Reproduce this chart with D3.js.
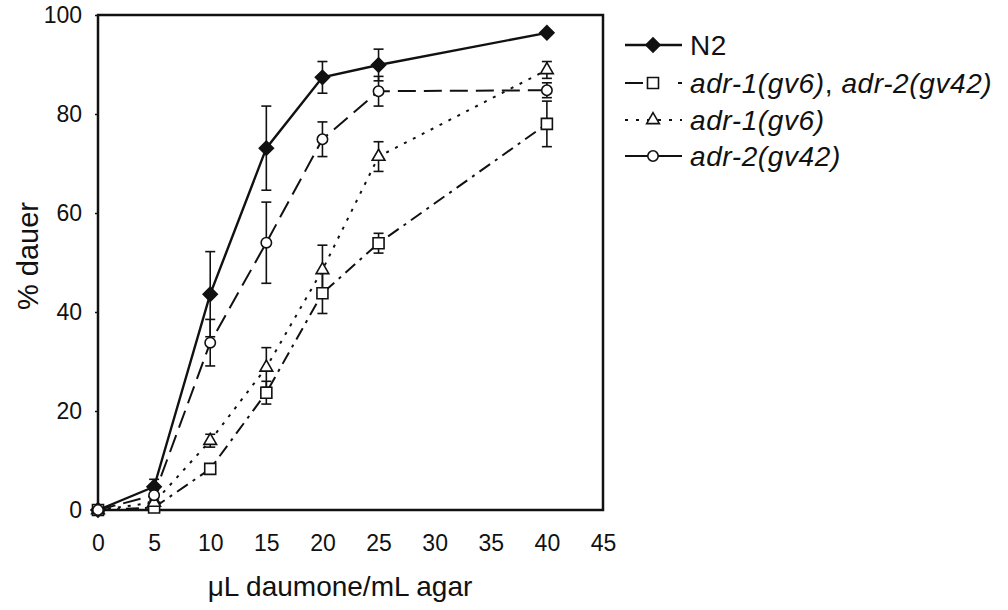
<!DOCTYPE html>
<html>
  <head>
    <meta charset="utf-8">
    <title>dauer formation vs daumone</title>
    <script src="https://d3js.org/d3.v7.min.js"></script>
  </head>
  <style>
    body { margin: 0; background: #fff; }
    svg { font-family: "Liberation Sans", Arial, sans-serif; }
    .tick text { font-size: 23px; fill: #111; }
    .tick line { stroke: #111; stroke-width: 1.5px; }
    .err { stroke: #111; stroke-width: 1.6px; fill: none; }
  </style>
  <body>

    <script>
      const width = 1008;
      const height = 610;

      // doses on x axis, means and errors
      const doses = [0, 5, 10, 15, 20, 25, 40];
      const n2Mean = [0, 4.7, 43.6, 73.1, 87.4, 89.9, 96.4];
      const n2Err = [0, 1.5, 8.6, 8.5, 3.2, 3.2, 0];
      const doubleMean = [0, 0.5, 8.3, 23.7, 43.8, 53.9, 78.0];
      const doubleErr = [0, 0.5, 1.0, 2.3, 4.1, 2.0, 4.6];
      const adr1Mean = [0, 1.5, 14.0, 28.8, 48.5, 71.4, 88.9];
      const adr1Err = [0, 0.5, 1.3, 4.0, 5.0, 3.0, 1.7];
      const adr2Mean = [0, 3.0, 33.8, 54.0, 74.9, 84.6, 84.8];
      const adr2Err = [0, 1.0, 4.7, 8.2, 3.5, 3.0, 1.5];

      const xTicks = [0, 5, 10, 15, 20, 25, 30, 35, 40, 45];
      const yTicks = [0, 20, 40, 60, 80, 100];

      const series = [
        {key: "n2", mean: n2Mean, err: n2Err, dash: null, legendDash: null, shape: "diamond", fill: "#111", width: 2.4},
        {key: "double", mean: doubleMean, err: doubleErr, dash: "13,6,3,6", legendDash: "18,35,4,10", shape: "square", fill: "#fff", width: 2},
        {key: "adr1", mean: adr1Mean, err: adr1Err, dash: "3,7", legendDash: "3,8", shape: "triangle", fill: "#fff", width: 2},
        {key: "adr2", mean: adr2Mean, err: adr2Err, dash: "18,8", legendDash: null, shape: "circle", fill: "#fff", width: 2}
      ];

      const xScale = d3.scaleLinear()
        .domain([0, 45])
        .range([98, 603]);

      const yScale = d3.scaleLinear()
        .domain([0, 100])
        .range([510, 15]);

      function symbolPath(shape) {
        if (shape === "diamond") return d3.symbol().type(d3.symbolSquare).size(100)();
        if (shape === "square") return d3.symbol().type(d3.symbolSquare).size(121)();
        if (shape === "triangle") return d3.symbol().type(d3.symbolTriangle).size(70)();
        return d3.symbol().type(d3.symbolCircle).size(85)();
      }

      function symbolRotate(shape) {
        return shape === "diamond" ? " rotate(45)" : "";
      }

      const svg = d3.select("body")
        .append("svg")
          .attr("width", width)
          .attr("height", height);

      // axes
      svg.append("g")
          .attr("transform", "translate(0," + yScale(0) + ")")
          .call(d3.axisBottom(xScale).tickValues(xTicks).tickSize(0).tickPadding(25))
          .call(function(g) { g.select(".domain").remove(); });

      svg.append("g")
          .attr("transform", "translate(" + xScale(0) + ",0)")
          .call(d3.axisLeft(yScale).tickValues(yTicks).tickSize(3).tickSizeOuter(0).tickPadding(13))
          .call(function(g) { g.select(".domain").remove(); });

      svg.append("rect")
          .attr("x", xScale(0))
          .attr("y", yScale(100))
          .attr("width", xScale(45) - xScale(0))
          .attr("height", yScale(0) - yScale(100))
          .attr("fill", "none")
          .attr("stroke", "#111")
          .attr("stroke-width", 2.5);

      svg.append("text")
          .attr("x", 340)
          .attr("y", 596)
          .attr("text-anchor", "middle")
          .attr("font-size", 28)
          .attr("fill", "#111")
          .text("\u03bcL daumone/mL agar");

      svg.append("text")
          .attr("transform", "translate(38,256) rotate(-90)")
          .attr("text-anchor", "middle")
          .attr("font-size", 29)
          .attr("fill", "#111")
          .text("% dauer");

      const line = d3.line()
        .x(function(d) { return xScale(d.x); })
        .y(function(d) { return yScale(d.y); });

      function points(s) {
        return doses.map(function(x, i) { return {x: x, y: s.mean[i], e: s.err[i]}; });
      }

      // lines
      svg.append("g").selectAll("path")
        .data(series)
        .enter()
        .append("path")
          .attr("d", function(s) { return line(points(s)); })
          .attr("fill", "none")
          .attr("stroke", "#111")
          .attr("stroke-width", function(s) { return s.width; })
          .attr("stroke-dasharray", function(s) { return s.dash; });

      // error bars
      const errGroups = svg.append("g").selectAll("g")
        .data(series)
        .enter()
        .append("g")
        .selectAll("g")
        .data(function(s) { return points(s).filter(function(p) { return p.e > 0.8; }); })
        .enter()
        .append("g")
          .attr("class", "err");

      errGroups.append("line")
          .attr("x1", function(p) { return xScale(p.x); })
          .attr("x2", function(p) { return xScale(p.x); })
          .attr("y1", function(p) { return yScale(p.y + p.e); })
          .attr("y2", function(p) { return yScale(p.y - p.e); });

      errGroups.append("line")
          .attr("x1", function(p) { return xScale(p.x) - 5; })
          .attr("x2", function(p) { return xScale(p.x) + 5; })
          .attr("y1", function(p) { return yScale(p.y + p.e); })
          .attr("y2", function(p) { return yScale(p.y + p.e); });

      errGroups.append("line")
          .attr("x1", function(p) { return xScale(p.x) - 5; })
          .attr("x2", function(p) { return xScale(p.x) + 5; })
          .attr("y1", function(p) { return yScale(p.y - p.e); })
          .attr("y2", function(p) { return yScale(p.y - p.e); });

      // markers
      svg.append("g").selectAll("g")
        .data(series)
        .enter()
        .append("g")
        .each(function(s) {
          d3.select(this).selectAll("path")
            .data(points(s))
            .enter()
            .append("path")
              .attr("d", symbolPath(s.shape))
              .attr("transform", function(p) {
                return "translate(" + xScale(p.x) + "," + yScale(p.y) + ")" + symbolRotate(s.shape);
              })
              .attr("fill", s.fill)
              .attr("stroke", "#111")
              .attr("stroke-width", 1.6);
        });

      // legend
      const legendRows = [
        {s: series[0], parts: [["N2", "normal"]]},
        {s: series[1], parts: [["adr-1(gv6)", "italic"], [", ", "normal"], ["adr-2(gv42)", "italic"]]},
        {s: series[2], parts: [["adr-1(gv6)", "italic"]]},
        {s: series[3], parts: [["adr-2(gv42)", "italic"]]}
      ];
      const legendY = [45, 83, 120, 156];

      const legend = svg.append("g").selectAll("g")
        .data(legendRows)
        .enter()
        .append("g")
          .attr("transform", function(d, i) { return "translate(625," + legendY[i] + ")"; });

      legend.append("line")
          .attr("x1", 0)
          .attr("x2", 57)
          .attr("stroke", "#111")
          .attr("stroke-width", function(d) { return d.s.width; })
          .attr("stroke-dasharray", function(d) { return d.s.legendDash; });

      legend.append("path")
          .attr("d", function(d) { return symbolPath(d.s.shape); })
          .attr("transform", function(d) { return "translate(28,0)" + symbolRotate(d.s.shape); })
          .attr("fill", function(d) { return d.s.fill; })
          .attr("stroke", "#111")
          .attr("stroke-width", 1.6);

      legend.append("text")
          .attr("x", 65)
          .attr("y", 10)
          .attr("font-size", 28)
          .attr("letter-spacing", 0.6)
          .attr("fill", "#111")
        .selectAll("tspan")
        .data(function(d) { return d.parts; })
        .enter()
        .append("tspan")
          .attr("font-style", function(p) { return p[1]; })
          .text(function(p) { return p[0]; });

    </script>
  </body>
</html>
